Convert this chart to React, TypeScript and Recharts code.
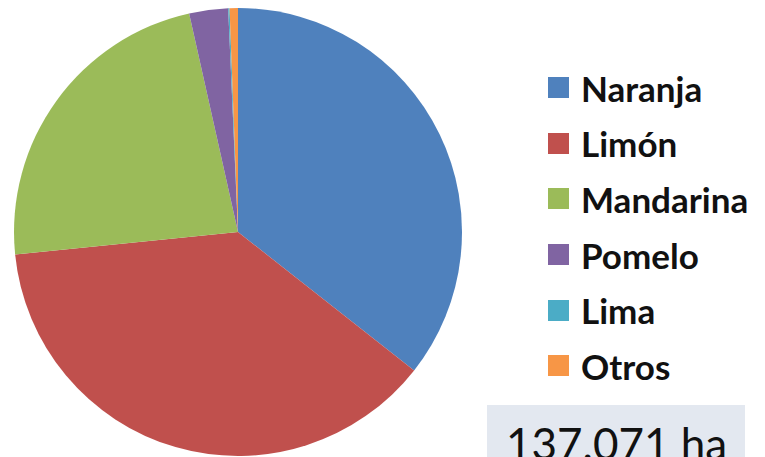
import React from "react";
import { PieChart, Pie, Cell, Legend } from "recharts";

const categories = ["Naranja", "Limón", "Mandarina", "Pomelo", "Lima", "Otros"];
const shares = [35.6, 37.8, 23.1, 2.8, 0.1, 0.6];
const colors = ["#4F81BD", "#C0504D", "#9BBB59", "#8064A2", "#4BACC6", "#F79646"];
const totalLabel = "137.071 ha";

const data = categories.map((name, i) => ({ name, value: shares[i] }));

const renderLegend = () => (
  <div style={{ fontFamily: "Lato, 'Open Sans', sans-serif", fontWeight: 700 }}>
    {categories.map((c, i) => (
      <div
        key={c}
        style={{ display: "flex", alignItems: "center", height: 55.6, fontSize: 35, color: "#111" }}
      >
        <span
          style={{
            display: "inline-block",
            width: 21,
            height: 21,
            background: colors[i],
            marginRight: 12,
          }}
        />
        <span>{c}</span>
      </div>
    ))}
  </div>
);

export default function App() {
  return (
    <div style={{ position: "absolute", left: 0, top: 0, width: 765, height: 457, background: "#fff", overflow: "hidden" }}>
      <PieChart width={765} height={457} margin={{ top: 0, right: 0, bottom: 0, left: 0 }}>
        <Pie
          data={data}
          dataKey="value"
          nameKey="name"
          cx={238}
          cy={232}
          outerRadius={224}
          startAngle={90}
          endAngle={-270}
          stroke="none"
          isAnimationActive={false}
        >
          {data.map((d, i) => (
            <Cell key={d.name} fill={colors[i]} />
          ))}
        </Pie>
        <Legend
          content={renderLegend}
          layout="vertical"
          wrapperStyle={{ position: "absolute", left: 548, top: 60, width: 217 }}
        />
      </PieChart>
      <div
        style={{
          position: "absolute",
          left: 487,
          top: 405,
          width: 258,
          height: 60,
          background: "#E3E8F0",
          fontFamily: "Lato, 'Open Sans', sans-serif",
          fontSize: 44,
          color: "#111",
          lineHeight: "44px",
          paddingLeft: 19,
          paddingTop: 16,
          boxSizing: "border-box",
          whiteSpace: "nowrap",
        }}
      >
        {totalLabel}
      </div>
    </div>
  );
}
